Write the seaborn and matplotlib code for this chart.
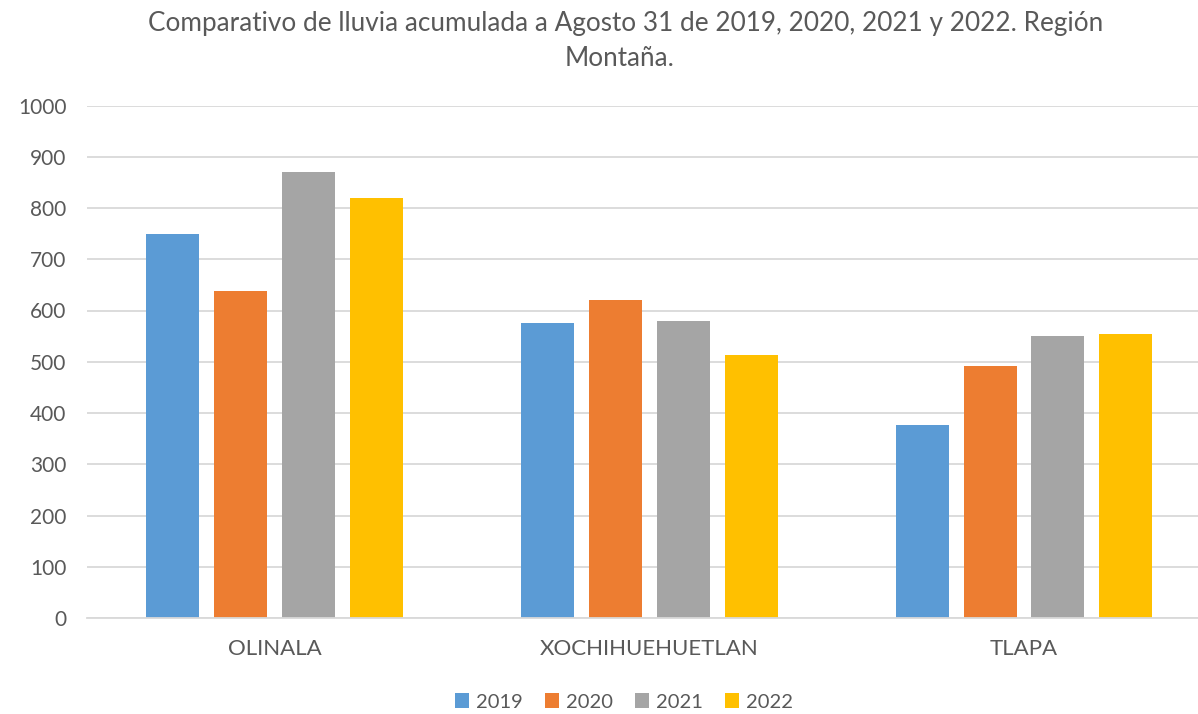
import matplotlib
matplotlib.use("Agg")
import matplotlib.pyplot as plt
import seaborn as sns
import pandas as pd

categories = ["OLINALA", "XOCHIHUEHUETLAN", "TLAPA"]
years = ["2019", "2020", "2021", "2022"]
v2019 = [749, 576, 376]
v2020 = [638, 620, 491]
v2021 = [871, 579, 551]
v2022 = [819, 514, 555]
colors = ["#5B9BD5", "#ED7D31", "#A5A5A5", "#FFC000"]

rows = []
for yr, vals in zip(years, [v2019, v2020, v2021, v2022]):
    for c, v in zip(categories, vals):
        rows.append({"Estación": c, "Año": yr, "Lluvia": v})
df = pd.DataFrame(rows)

sns.set_theme(style="white")
plt.rcParams["font.family"] = ["Lato", "DejaVu Sans"]
text_color = "#595959"

fig = plt.figure(figsize=(11.98, 7.14), dpi=100)
ax = fig.add_axes([87.1 / 1198, 1 - 618 / 714, (1211.4 - 87.1) / 1198, (618 - 105.5) / 714])

sns.barplot(data=df, x="Estación", y="Lluvia", hue="Año", order=categories,
            hue_order=years, palette=colors, width=0.725, gap=0.22,
            saturation=1, linewidth=0, ax=ax, legend=True)

ax.set_xlim(-0.5, 2.5)
ax.set_ylim(0, 1000)
ax.set_yticks(range(0, 1001, 100))
ax.yaxis.grid(True, color="#D9D9D9", linewidth=1.3)
ax.set_axisbelow(True)
for s in ["top", "right", "left"]:
    ax.spines[s].set_visible(False)
ax.spines["bottom"].set_color("#D9D9D9")
ax.spines["bottom"].set_linewidth(1.3)
ax.set_xlabel("")
ax.set_ylabel("")
ax.tick_params(axis="both", length=0, colors=text_color)
ax.tick_params(axis="x", pad=15, labelsize=16)
ax.tick_params(axis="y", pad=15, labelsize=15)

handles, labels = ax.get_legend_handles_labels()
ax.get_legend().remove()
fig.legend(handles, labels, loc="center", bbox_to_anchor=(0.521, 1 - 702 / 714),
           ncol=4, frameon=False, fontsize=14.5, handlelength=0.7, handleheight=0.7,
           handletextpad=0.35, columnspacing=1.1, labelcolor=text_color)

fig.text(626 / 1198, 1 - 23 / 714, "Comparativo de lluvia acumulada a Agosto 31 de 2019, 2020, 2021 y 2022. Región",
         ha="center", va="center", fontsize=18.8, color=text_color)
fig.text(620 / 1198, 1 - 59 / 714, "Montaña.", ha="center", va="center", fontsize=18.8, color=text_color)

fig.savefig("out.png", dpi=100)
